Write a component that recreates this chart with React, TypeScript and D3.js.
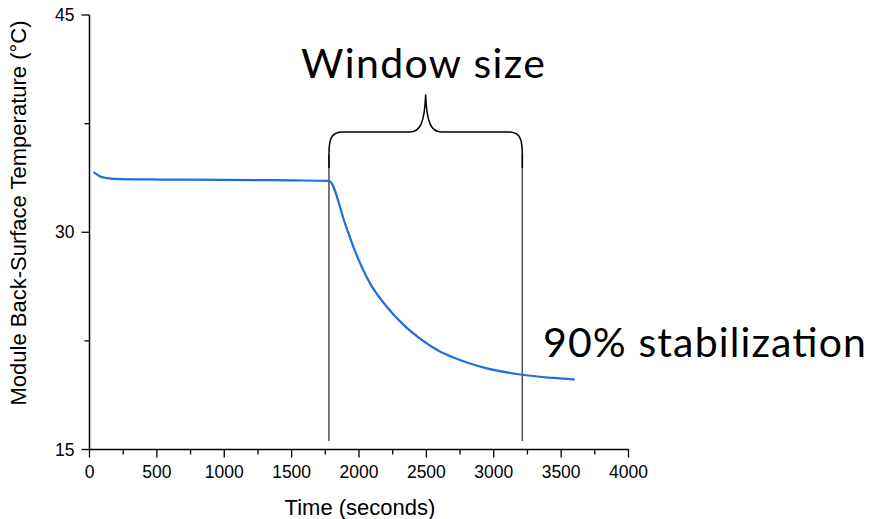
import { useEffect } from 'react';
import * as d3 from 'd3';

// values
const timeSeconds = [30, 80, 130, 230, 525, 1000, 1500, 1777, 1896, 1958, 2020, 2082, 2206, 2329, 2453, 2601, 2701, 2949, 3196, 3443, 3600];
const temperature = [34.15, 33.85, 33.74, 33.67, 33.64, 33.62, 33.58, 33.55, 30.62, 29.0, 27.62, 26.47, 24.86, 23.62, 22.66, 21.77, 21.35, 20.6, 20.18, 19.94, 19.83];

const xTicks = [0, 500, 1000, 1500, 2000, 2500, 3000, 3500, 4000];
const xMinorTicks = [250, 750, 1250, 1750, 2250, 2750, 3250, 3750];
const yTicks = [15, 30, 45];
const yMinorTicks = [22.5, 37.5];

const windowStart = 1777;
const windowEnd = 3212;

const width = 874;
const height = 519;

export default function App() {
  useEffect(() => {
    document.body.style.margin = '0';
  }, []);

  const x = d3.scaleLinear().domain([0, 4000]).range([89.5, 628.5]);
  const y = d3.scaleLinear().domain([15, 45]).range([449.5, 15]);

  const points = timeSeconds.map((t, i) => [t, temperature[i]] as [number, number]);
  const line = d3.line<[number, number]>()
    .x(d => x(d[0]))
    .y(d => y(d[1]))
    .curve(d3.curveMonotoneX);

  const left = x(windowStart);
  const right = x(windowEnd);
  const mid = (left + right) / 2;
  const braceY = 132;
  const cuspY = 94.5;
  const braceEnd = 168;

  const brace = [
    `M${left},${braceEnd}`,
    `L${left},${braceY + 22}`,
    `C${left},${braceY + 4} ${left + 4},${braceY} ${left + 14},${braceY}`,
    `L${mid - 16},${braceY}`,
    `C${mid - 6},${braceY} ${mid - 1},${braceY - 8} ${mid},${cuspY}`,
    `C${mid + 1},${braceY - 8} ${mid + 6},${braceY} ${mid + 16},${braceY}`,
    `L${right - 14},${braceY}`,
    `C${right - 4},${braceY} ${right},${braceY + 4} ${right},${braceY + 22}`,
    `L${right},${braceEnd}`,
  ].join(' ');

  const axisFont = '"Liberation Sans", Arial, sans-serif';
  const noteFont = 'Lato, "Open Sans", sans-serif';

  return (
    <svg width={width} height={height} style={{ display: 'block', background: '#fff' }}>
      {/* window markers */}
      <line x1={left} x2={left} y1={155} y2={441} stroke="#4d4d4d" strokeWidth={1.5} />
      <line x1={right} x2={right} y1={155} y2={441} stroke="#4d4d4d" strokeWidth={1.5} />
      <path d={brace} fill="none" stroke="#000" strokeWidth={1.5} />

      {/* series */}
      <path d={line(points) ?? ''} fill="none" stroke="#1f6fde" strokeWidth={2.2} />

      {/* axes */}
      <line x1={x(0)} x2={x(0)} y1={y(45)} y2={y(15)} stroke="#000" strokeWidth={1.5} />
      <line x1={x(0)} x2={x(4000)} y1={y(15)} y2={y(15)} stroke="#000" strokeWidth={1.5} />
      {xTicks.map(t => (
        <g key={`xt${t}`}>
          <line x1={x(t)} x2={x(t)} y1={y(15)} y2={y(15) + 8} stroke="#000" strokeWidth={1.3} />
          <text x={x(t)} y={y(15) + 28} textAnchor="middle" fontFamily={axisFont} fontSize={17.5} fill="#000">{t}</text>
        </g>
      ))}
      {xMinorTicks.map(t => (
        <line key={`xm${t}`} x1={x(t)} x2={x(t)} y1={y(15)} y2={y(15) + 5} stroke="#000" strokeWidth={1.3} />
      ))}
      {yTicks.map(t => (
        <g key={`yt${t}`}>
          <line x1={x(0) - 8} x2={x(0)} y1={y(t)} y2={y(t)} stroke="#000" strokeWidth={1.3} />
          <text x={x(0) - 15} y={y(t) + 6} textAnchor="end" fontFamily={axisFont} fontSize={17.5} fill="#000">{t}</text>
        </g>
      ))}
      {yMinorTicks.map(t => (
        <line key={`ym${t}`} x1={x(0) - 5} x2={x(0)} y1={y(t)} y2={y(t)} stroke="#000" strokeWidth={1.3} />
      ))}

      <text x={360} y={515} textAnchor="middle" fontFamily={axisFont} fontSize={22} fill="#000">Time (seconds)</text>
      <text transform={`translate(26,213) rotate(-90)`} textAnchor="middle" fontFamily={axisFont} fontSize={22} fill="#000">
        Module Back-Surface Temperature (°C)
      </text>

      {/* annotations */}
      <text x={301} y={78} fontFamily={noteFont} fontSize={41} textLength={244} lengthAdjust="spacing" fill="#000">Window size</text>
      <text x={543} y={357} fontFamily={noteFont} fontSize={41} textLength={323} lengthAdjust="spacing" fill="#000">90% stabilization</text>
    </svg>
  );
}
